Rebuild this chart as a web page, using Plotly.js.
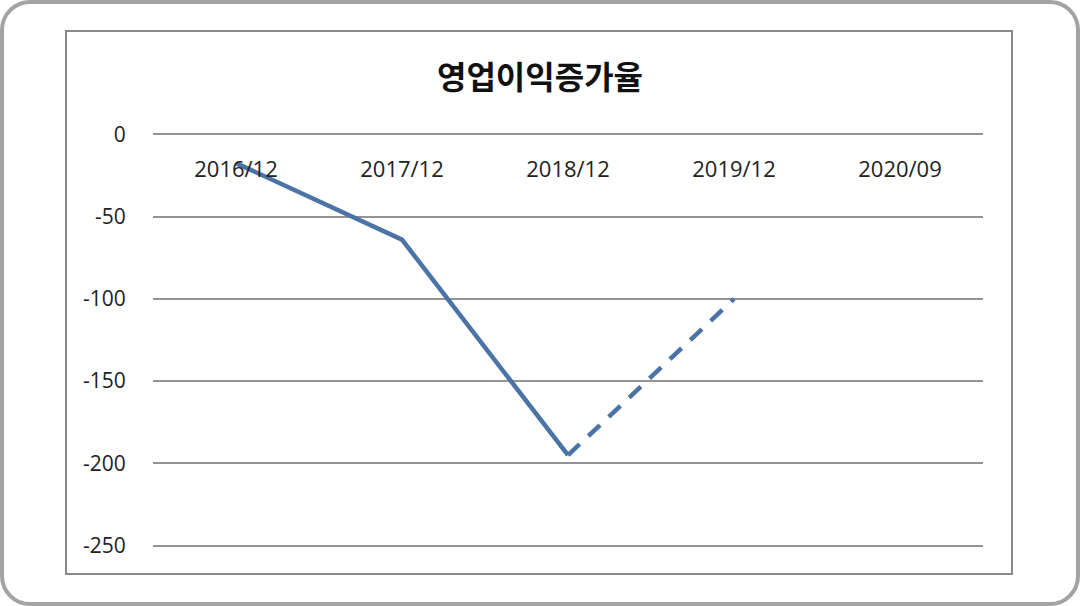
<!DOCTYPE html>
<html>
<head>
<meta charset="utf-8">
<script src="https://cdn.plot.ly/plotly-3.0.1.min.js"></script>
<style>
  body { margin: 0; background: #fff; }
  #wrap { position: relative; width: 1080px; height: 606px; }
  #chart { width: 1080px; height: 606px; }
  #frame {
    position: absolute; left: 0; top: 0; width: 1080px; height: 606px;
    box-sizing: border-box; border: 4px solid #a3a3a3; border-radius: 30px;
    pointer-events: none;
  }
</style>
</head>
<body>
<div id="wrap">
  <div id="chart"></div>
  <div id="frame"></div>
</div>
<script>
  // 영업이익증가율 (%)
  var periods = ['2016/12', '2017/12', '2018/12', '2019/12', '2020/09'];
  var actual = [-17.5, -64, -195, null, null];
  var estimate = [null, null, -195, -100, null];
  var yTicks = [0, -50, -100, -150, -200, -250];
  var yTickText = ['0', '-50', '-100', '-150', '-200', '-250'];

  var lineColor = '#4b73a6';

  var solid = {
    x: periods, y: actual, type: 'scatter', mode: 'lines',
    line: {color: lineColor, width: 4.5},
    hoverinfo: 'skip', showlegend: false
  };
  var dashed = {
    x: periods, y: estimate, type: 'scatter', mode: 'lines',
    line: {color: lineColor, width: 4.5, dash: '16px,12px'},
    hoverinfo: 'skip', showlegend: false
  };

  // plot box: x 153..983, y 131..549; range padded so the 0 and -250 gridlines still draw
  var layout = {
    width: 1080, height: 606,
    margin: {l: 153, r: 97, t: 131, b: 57},
    paper_bgcolor: '#fff', plot_bgcolor: '#fff',
    font: {family: '"Open Sans", "Noto Sans", sans-serif', color: '#222', size: 20},
    title: {
      text: '<b>영업이익증가율</b>',
      font: {family: '"Noto Sans CJK KR", sans-serif', size: 32, color: '#111'},
      x: 0.5, xanchor: 'center', y: 0.872, yanchor: 'middle'
    },
    xaxis: {
      type: 'category',
      range: [-0.5, 4.5],
      anchor: 'free', position: 1, side: 'bottom',
      showgrid: false, zeroline: false, showline: false,
      ticks: 'outside', ticklen: 19, tickcolor: 'rgba(0,0,0,0)',
      tickfont: {size: 22, color: '#222'}
    },
    yaxis: {
      range: [-252, 2],
      tickvals: yTicks, ticktext: yTickText,
      showgrid: true, gridcolor: '#939393', gridwidth: 2,
      zeroline: false, showline: false,
      ticks: 'outside', ticklen: 22, tickcolor: 'rgba(0,0,0,0)',
      tickfont: {size: 21, color: '#222'}
    },
    shapes: [{
      type: 'rect', xref: 'paper', yref: 'paper',
      x0: (66 - 153) / 830, x1: (1012 - 153) / 830,
      y0: (549 - 574) / 418, y1: (549 - 31) / 418,
      line: {color: '#8a8a8a', width: 2}, layer: 'below'
    }]
  };

  Plotly.newPlot('chart', [solid, dashed], layout, {staticPlot: true});
</script>
</body>
</html>
